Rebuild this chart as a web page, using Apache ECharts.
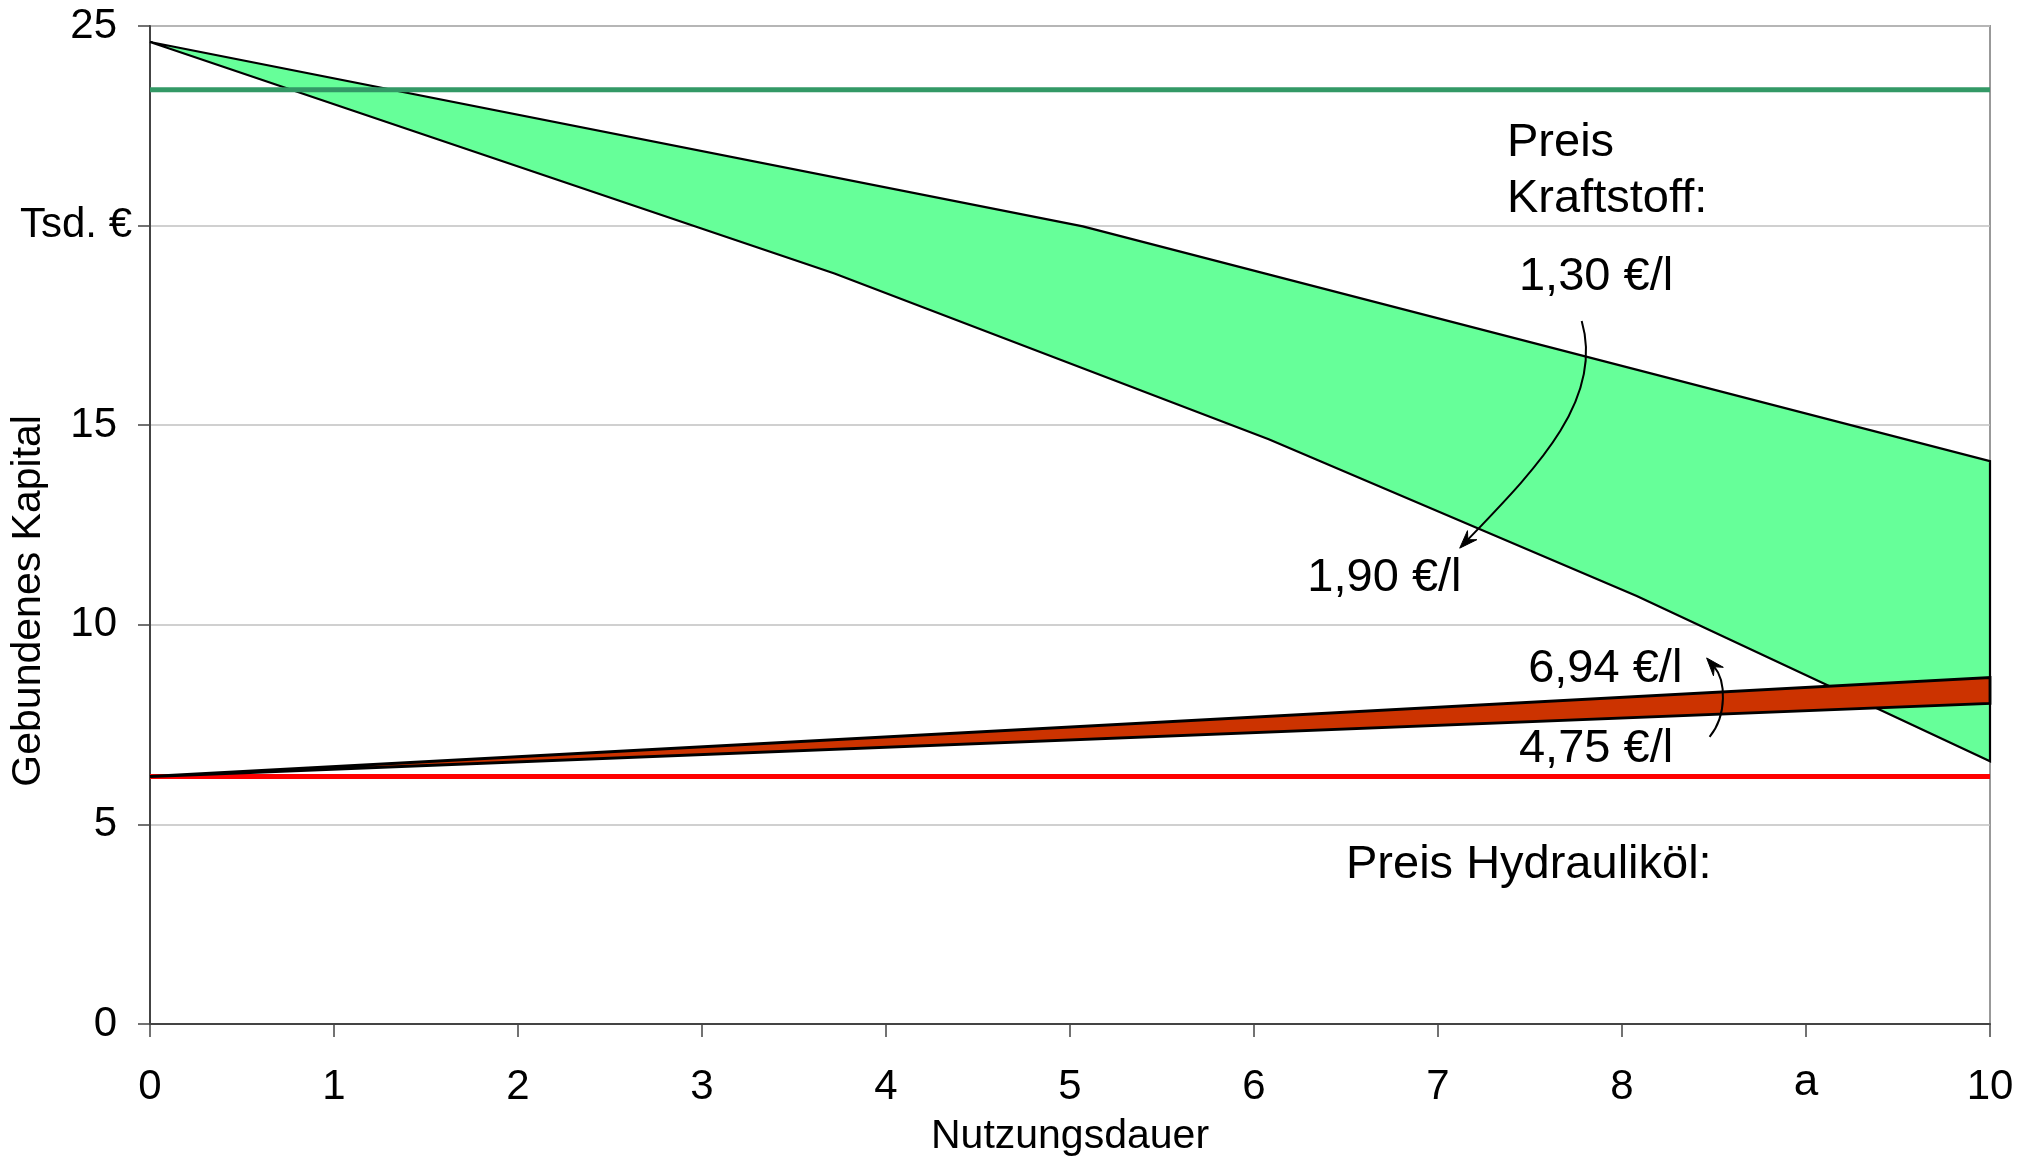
<!DOCTYPE html>
<html>
<head>
<meta charset="utf-8">
<script src="https://cdn.jsdelivr.net/npm/echarts/dist/echarts.min.js"></script>
<style>
html, body { margin: 0; padding: 0; background: #ffffff; }
#main { width: 2038px; height: 1158px; }
</style>
</head>
<body>
<div id="main"></div>
<script>
// ---- tick labels ----
const xTickValues = [0, 1, 2, 3, 4, 5, 6, 7, 8, 9, 10];
const xTickLabels = ['0', '1', '2', '3', '4', '5', '6', '7', '8', 'a', '10'];
const yTickValues = [0, 5, 10, 15, 20, 25];
const yTickLabels = ['0', '5', '10', '15', 'Tsd. €', '25'];

// ---- series values (Nutzungsdauer in a, Kapital in Tsd. €) ----
// Kraftstoff 1,30 €/l (upper edge of green band)
const kraftstoff130X = [0, 5.07, 10];
const kraftstoff130Y = [24.6, 19.98, 14.1];
// Kraftstoff 1,90 €/l (lower edge of green band)
const kraftstoff190X = [0, 3.72, 6.08, 8.08, 10];
const kraftstoff190Y = [24.6, 18.8, 14.65, 10.72, 6.58];
// Hydrauliköl 6,94 €/l (upper edge of red band)
const hydraulik694X = [0, 10];
const hydraulik694Y = [6.2, 8.68];
// Hydrauliköl 4,75 €/l (lower edge of red band)
const hydraulik475X = [0, 10];
const hydraulik475Y = [6.2, 8.03];
// reference lines
const refKraftstoffX = [0, 10];
const refKraftstoffY = [23.4, 23.4];
const refHydraulikX = [0, 10];
const refHydraulikY = [6.2, 6.2];

const FONT = '"Liberation Sans", Arial, Helvetica, sans-serif';

function pairs(xs, ys) { return xs.map((x, i) => [x, ys[i]]); }

function bandSeries(upX, upY, loX, loY, fill, lw) {
  return {
    type: 'custom',
    coordinateSystem: 'cartesian2d',
    silent: true,
    z: 2,
    data: pairs(upX, upY).slice(0, 1),
    renderItem: function (params, api) {
      const pts = [];
      for (let i = 0; i < upX.length; i++) pts.push(api.coord([upX[i], upY[i]]));
      for (let i = loX.length - 1; i >= 0; i--) pts.push(api.coord([loX[i], loY[i]]));
      return {
        type: 'polygon',
        shape: { points: pts },
        style: { fill: fill, stroke: '#000000', lineWidth: lw, lineJoin: 'miter' }
      };
    }
  };
}

function refLine(xs, ys, color, z) {
  return {
    type: 'line',
    data: pairs(xs, ys),
    symbol: 'none',
    silent: true,
    z: z,
    lineStyle: { color: color, width: 5 }
  };
}

const chart = echarts.init(document.getElementById('main'), null, { renderer: 'canvas' });

const option = {
  animation: false,
  backgroundColor: '#ffffff',
  textStyle: { fontFamily: FONT },
  grid: {
    left: 150, right: 48, top: 26, bottom: 134,
    containLabel: false,
    outerBoundsMode: 'none',
    show: true,
    borderColor: '#999999',
    borderWidth: 2,
    backgroundColor: 'transparent'
  },
  xAxis: {
    type: 'value',
    min: 0, max: 10, interval: 1,
    name: 'Nutzungsdauer',
    nameLocation: 'middle',
    nameGap: 92,
    nameTextStyle: { fontSize: 41, color: '#000', fontFamily: FONT },
    axisLine: { show: true, onZero: false, lineStyle: { color: '#444444', width: 2 } },
    axisTick: { show: true, length: 13, lineStyle: { color: '#444444', width: 1.5 } },
    splitLine: { show: false },
    axisLabel: {
      fontSize: 42, color: '#000', fontFamily: FONT, margin: 42,
      formatter: function (v) {
        const i = xTickValues.indexOf(v);
        const t = i >= 0 ? xTickLabels[i] : '';
        return t === 'a' ? '{a|a}' : t;
      },
      rich: { a: { fontSize: 44, fontFamily: FONT, color: '#000', lineHeight: 34 } }
    }
  },
  yAxis: {
    type: 'value',
    min: 0, max: 25, interval: 5,
    axisLine: { show: true, onZero: false, lineStyle: { color: '#444444', width: 2 } },
    axisTick: { show: true, length: 12, lineStyle: { color: '#444444', width: 1.5 } },
    splitLine: { show: true, lineStyle: { color: '#C0C0C0', width: 1.5 } },
    axisLabel: {
      fontSize: 42, color: '#000', fontFamily: FONT, margin: 18,
      formatter: function (v) {
        const i = yTickValues.indexOf(v);
        const t = i >= 0 ? yTickLabels[i] : '';
        return v === 20 ? '{u|' + t + '}' : '{n|' + t + '}';
      },
      rich: {
        u: { fontSize: 42, fontFamily: FONT, color: '#000' },
        n: { fontSize: 42, fontFamily: FONT, color: '#000', padding: [0, 15, 0, 0] }
      }
    }
  },
  series: [
    bandSeries(kraftstoff130X, kraftstoff130Y, kraftstoff190X, kraftstoff190Y, '#66FF99', 2.2),
    bandSeries(hydraulik694X, hydraulik694Y, hydraulik475X, hydraulik475Y, '#CC3300', 2.8),
    refLine(refKraftstoffX, refKraftstoffY, '#339966', 4),
    refLine(refHydraulikX, refHydraulikY, '#FF0000', 1)
  ]
};

chart.setOption(option);

// ---- annotations (positioned in data coordinates) ----
function px(x, y) { return chart.convertToPixel({ gridIndex: 0 }, [x, y]); }

function label(text, x, y) {
  const p = px(x, y);
  return {
    type: 'text', x: p[0], y: p[1], z: 100, silent: true,
    style: { text: text, fontSize: 47, fontFamily: FONT, fill: '#000', align: 'left', verticalAlign: 'middle' }
  };
}

function curvedArrow(p0, p1, p2, p3) {
  const a = px(p0[0], p0[1]), b = px(p1[0], p1[1]), c = px(p2[0], p2[1]), d = px(p3[0], p3[1]);
  const dx = d[0] - c[0], dy = d[1] - c[1];
  const len = Math.hypot(dx, dy), ux = dx / len, uy = dy / len, nx = -uy, ny = ux;
  const L = 18, H = 6.5;
  const bx = d[0] - ux * L, by = d[1] - uy * L;
  const mx = d[0] - ux * L * 0.65, my = d[1] - uy * L * 0.65;
  return [
    {
      type: 'bezierCurve', z: 100, silent: true,
      shape: { x1: a[0], y1: a[1], cpx1: b[0], cpy1: b[1], cpx2: c[0], cpy2: c[1], x2: mx, y2: my },
      style: { stroke: '#000', lineWidth: 2, fill: null }
    },
    {
      type: 'polygon', z: 101, silent: true,
      shape: { points: [[d[0], d[1]], [bx + nx * H, by + ny * H], [mx, my], [bx - nx * H, by - ny * H]] },
      style: { fill: '#000', stroke: '#000', lineWidth: 1 }
    }
  ];
}

// y-axis title, centred where the reference has it (slightly below the plot middle)
const yTitlePos = px(0, 10.6);
const graphics = [
  {
    type: 'text', x: 29, y: yTitlePos[1], rotation: Math.PI / 2, z: 100, silent: true,
    style: { text: 'Gebundenes Kapital', fontSize: 41, fontFamily: FONT, fill: '#000', align: 'center', verticalAlign: 'middle' }
  },
  label('Preis', 7.375, 22.08),
  label('Kraftstoff:', 7.375, 20.66),
  label('1,30 €/l', 7.44, 18.71),
  label('1,90 €/l', 6.29, 11.17),
  label('6,94 €/l', 7.49, 8.89),
  label('4,75 €/l', 7.44, 6.89),
  label('Preis Hydrauliköl:', 6.50, 3.98)
]
  .concat(curvedArrow([7.781, 17.61], [7.906, 15.63], [7.526, 13.88], [7.118, 11.92]))
  .concat(curvedArrow([8.476, 7.19], [8.574, 7.74], [8.563, 8.62], [8.460, 9.17]));

chart.setOption({ graphic: graphics });
</script>
</body>
</html>
